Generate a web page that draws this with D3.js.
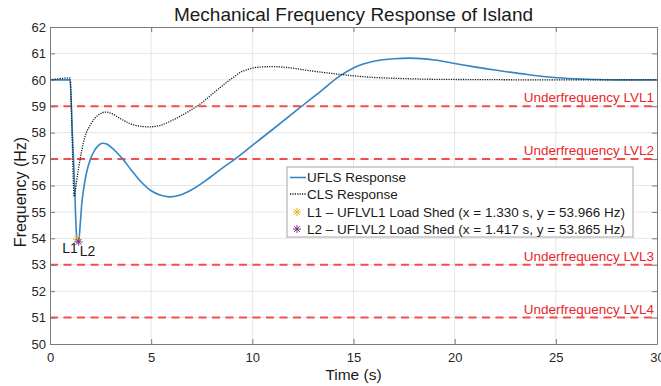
<!DOCTYPE html>
<html>
<head>
<meta charset="utf-8">
<script src="https://cdn.jsdelivr.net/npm/d3@7"></script>
<style>
    body { margin: 0; background: #fff; }
    svg { display: block; font-family: Arial, "Liberation Sans", sans-serif; }
</style>
</head>
<body>
<div id="chart"></div>
<script>
// UFLS response (blue solid)
const uflsTime = [0, 0.5, 0.99, 1.1, 1.2, 1.33, 1.417, 1.5, 1.57, 1.65, 1.81, 2.0, 2.22, 2.4, 2.6, 2.8, 3.0, 3.3, 3.62, 4.0, 4.45, 5.0, 5.4, 5.9, 6.4, 7.0, 7.74, 8.5, 9.14, 10, 11, 12, 12.44, 13.3, 14.33, 15, 16, 17, 17.8, 19, 20, 20.9, 22, 23.6, 24.9, 26, 27, 28, 30];
const uflsFreq = [60.0, 60.0, 60.0, 58.05, 56.3, 53.966, 53.865, 54.6, 55.3, 55.8, 56.5, 57.0, 57.35, 57.52, 57.6, 57.57, 57.46, 57.25, 56.98, 56.6, 56.18, 55.8, 55.65, 55.57, 55.63, 55.84, 56.21, 56.65, 57.0, 57.52, 58.12, 58.73, 59.0, 59.52, 60.15, 60.45, 60.7, 60.8, 60.82, 60.75, 60.62, 60.5, 60.37, 60.2, 60.09, 60.04, 60.01, 60.0, 60.0];

// CLS response (black dotted)
const clsTime = [0, 0.4, 0.99, 1.2, 1.3, 1.4, 1.55, 1.73, 2.0, 2.22, 2.5, 2.72, 3.0, 3.5, 4.0, 4.5, 4.9, 5.5, 6.0, 6.5, 7.0, 7.5, 8.0, 8.57, 9.0, 9.4, 9.8, 10.2, 11, 11.8, 12.7, 13.5, 14.3, 15.3, 16, 17, 17.8, 19, 21, 24, 30];
const clsFreq = [60.0, 60.04, 60.07, 55.58, 56.1, 56.6, 57.25, 57.85, 58.3, 58.55, 58.72, 58.78, 58.74, 58.52, 58.33, 58.24, 58.22, 58.29, 58.45, 58.65, 58.87, 59.13, 59.45, 59.81, 60.06, 60.28, 60.4, 60.47, 60.5, 60.46, 60.36, 60.28, 60.21, 60.13, 60.09, 60.06, 60.04, 60.02, 60.01, 60.0, 60.0];

// underfrequency levels
const thresholds = [59, 57, 53, 51];
const thresholdLabels = ["Underfrequency LVL1", "Underfrequency LVL2", "Underfrequency LVL3", "Underfrequency LVL4"];

// load shed points
const shedNames = ["L1", "L2"];
const shedTime = [1.330, 1.417];
const shedFreq = [53.966, 53.865];
const shedColors = ["#EDB120", "#7E2F8E"];
const shedLegend = ["L1 \u2013 UFLVL1 Load Shed (x = 1.330 s, y = 53.966 Hz)", "L2 \u2013 UFLVL2 Load Shed (x = 1.417 s, y = 53.865 Hz)"];

const xTicks = [0, 5, 10, 15, 20, 25, 30];
const yTicks = [50, 51, 52, 53, 54, 55, 56, 57, 58, 59, 60, 61, 62];

const W = 661, H = 386;
const margin = {top: 27, right: 4, bottom: 42, left: 50};
const width = W - margin.left - margin.right;
const height = H - margin.top - margin.bottom;

const svg = d3.select("#chart")
    .append("svg")
        .attr("width", W)
        .attr("height", H);

const g = svg.append("g")
    .attr("transform", `translate(${margin.left}, ${margin.top})`);

const x = d3.scaleLinear().domain([0, 30]).range([0, width]);
const y = d3.scaleLinear().domain([50, 62]).range([height, 0]);

// grid
g.append("g").selectAll("line")
    .data(xTicks.slice(1, -1))
    .enter().append("line")
        .attr("x1", d => x(d)).attr("x2", d => x(d))
        .attr("y1", 0).attr("y2", height)
        .attr("stroke", "#e6e6e6");
g.append("g").selectAll("line")
    .data(yTicks.slice(1, -1))
    .enter().append("line")
        .attr("x1", 0).attr("x2", width)
        .attr("y1", d => y(d)).attr("y2", d => y(d))
        .attr("stroke", "#e6e6e6");

// threshold lines
g.append("g").selectAll("line")
    .data(thresholds)
    .enter().append("line")
        .attr("x1", 0).attr("x2", width)
        .attr("y1", d => y(d)).attr("y2", d => y(d))
        .attr("stroke", "#f23c3c")
        .attr("stroke-opacity", 0.9)
        .attr("stroke-width", 2)
        .attr("stroke-dasharray", "8,5.5");

g.append("g").selectAll("text")
    .data(thresholds)
    .enter().append("text")
        .attr("x", width - 3)
        .attr("y", d => y(d) - 4)
        .attr("text-anchor", "end")
        .attr("font-size", 13.5)
        .attr("fill", "#e8262c")
        .text((d, i) => thresholdLabels[i]);

const line = d3.line()
    .x(d => x(d[0]))
    .y(d => y(d[1]))
    .curve(d3.curveMonotoneX);

g.append("path")
    .datum(d3.zip(uflsTime, uflsFreq))
    .attr("fill", "none")
    .attr("stroke", "#3385c4")
    .attr("stroke-width", 1.6)
    .attr("d", line);

g.append("path")
    .datum(d3.zip(clsTime, clsFreq))
    .attr("fill", "none")
    .attr("stroke", "#1a1a1a")
    .attr("stroke-width", 1.3)
    .attr("stroke-dasharray", "1.2,1.2")
    .attr("d", line);

// asterisk marker
const star = r => {
    const a = r * Math.SQRT1_2;
    return `M${-r},0L${r},0M0,${-r}L0,${r}M${-a},${-a}L${a},${a}M${-a},${a}L${a},${-a}`;
};

g.append("g").selectAll("path")
    .data(shedTime)
    .enter().append("path")
        .attr("transform", (d, i) => `translate(${x(d)}, ${y(shedFreq[i])})`)
        .attr("d", star(4))
        .attr("stroke", (d, i) => shedColors[i])
        .attr("stroke-width", 1)
        .attr("fill", "none");

g.append("g").selectAll("text")
    .data(shedTime)
    .enter().append("text")
        .attr("x", (d, i) => x(d) + 1)
        .attr("y", (d, i) => y(shedFreq[i]) + 14)
        .attr("text-anchor", (d, i) => i === 0 ? "end" : "start")
        .attr("font-size", 14)
        .attr("fill", "#1a1a1a")
        .text((d, i) => shedNames[i]);

// axes
g.append("g")
    .attr("transform", `translate(0, ${height})`)
    .call(d3.axisBottom(x).tickValues(xTicks).tickSizeInner(-5).tickSizeOuter(0).tickPadding(9));
g.append("g")
    .call(d3.axisLeft(y).tickValues(yTicks).tickSizeInner(-5).tickSizeOuter(0).tickPadding(4));
g.append("g")
    .call(d3.axisTop(x).tickValues(xTicks).tickSizeInner(-5).tickSizeOuter(0).tickFormat(""));
g.append("g")
    .attr("transform", `translate(${width}, 0)`)
    .call(d3.axisRight(y).tickValues(yTicks).tickSizeInner(-5).tickSizeOuter(0).tickFormat(""));

g.selectAll(".domain, .tick line").attr("stroke", "#7a7a7a");
g.selectAll(".tick text")
    .attr("font-size", 13)
    .attr("font-family", "Arial, 'Liberation Sans', sans-serif")
    .attr("fill", "#262626");

// title and labels
svg.append("text")
    .attr("x", margin.left + width / 2)
    .attr("y", 21)
    .attr("text-anchor", "middle")
    .attr("font-size", 19)
    .attr("fill", "#1a1a1a")
    .text("Mechanical Frequency Response of Island");

svg.append("text")
    .attr("x", margin.left + width / 2)
    .attr("y", 380)
    .attr("text-anchor", "middle")
    .attr("font-size", 15.5)
    .attr("fill", "#1a1a1a")
    .text("Time (s)");

svg.append("text")
    .attr("transform", "translate(26, 192) rotate(-90)")
    .attr("text-anchor", "middle")
    .attr("font-size", 16)
    .attr("fill", "#1a1a1a")
    .text("Frequency (Hz)");

// legend
const legend = svg.append("g")
    .attr("transform", "translate(287, 167)");

legend.append("rect")
    .attr("width", 346)
    .attr("height", 70)
    .attr("fill", "#fff")
    .attr("stroke", "#a6a6a6");

const rows = [10.5, 27, 45, 62];

legend.append("line")
    .attr("x1", 3).attr("x2", 19)
    .attr("y1", rows[0]).attr("y2", rows[0])
    .attr("stroke", "#3385c4").attr("stroke-width", 1.6);
legend.append("line")
    .attr("x1", 3).attr("x2", 19)
    .attr("y1", rows[1]).attr("y2", rows[1])
    .attr("stroke", "#1a1a1a").attr("stroke-width", 1.3)
    .attr("stroke-dasharray", "1.2,1.2");

shedColors.forEach((c, i) => {
    legend.append("path")
        .attr("transform", `translate(10, ${rows[i + 2]})`)
        .attr("d", star(4))
        .attr("stroke", c)
        .attr("fill", "none");
});

legend.selectAll(".lt")
    .data(["UFLS Response", "CLS Response"].concat(shedLegend))
    .enter().append("text")
        .attr("class", "lt")
        .attr("x", 20)
        .attr("y", (d, i) => rows[i])
        .attr("dy", "0.35em")
        .attr("font-size", 13.5)
        .attr("fill", "#1a1a1a")
        .text(d => d);
</script>
</body>
</html>
